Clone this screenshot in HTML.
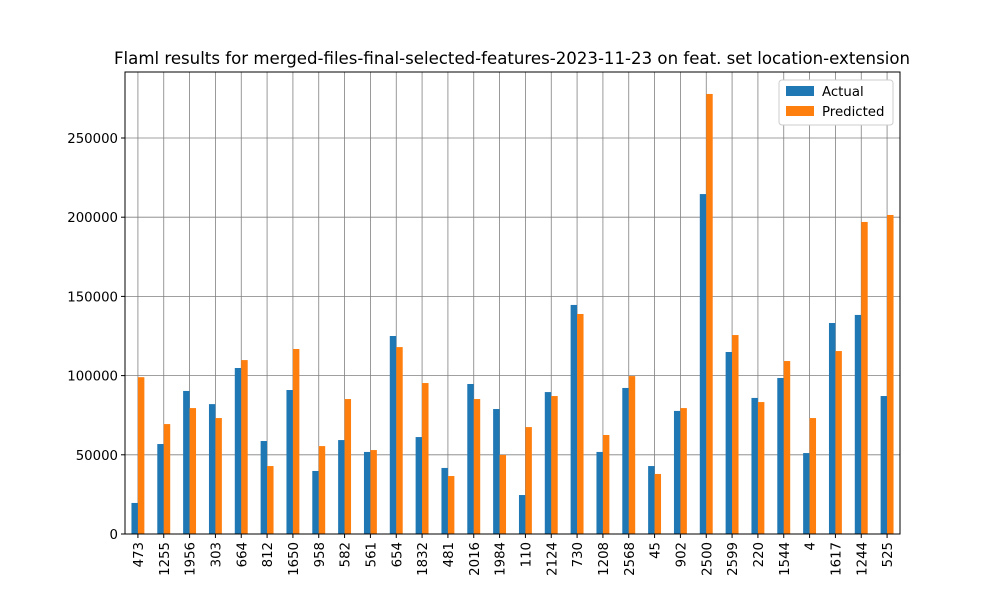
<!DOCTYPE html>
<html><head><meta charset="utf-8"><style>body{margin:0;background:#fff}svg{display:block;font-family:"DejaVu Sans","Liberation Sans",sans-serif}</style></head>
<body>
<svg id="chart" width="1000" height="600"></svg>
<script>
const categories=["473","1255","1956","303","664","812","1650","958","582","561","654","1832","481","2016","1984","110","2124","730","1208","2568","45","902","2500","2599","220","1544","4","1617","1244","525"];
const actualValues=[19600,56800,90300,82000,104800,58700,90900,39800,59300,51800,125000,61200,41700,94700,78900,24600,89600,144600,51800,92200,42900,77700,214600,114900,85900,98500,51100,133200,138300,87100];
const predictedValues=[99000,69400,79500,73200,109800,42900,116800,55500,85200,53000,118000,95300,36600,85200,49900,67500,87100,138900,62500,99700,37900,79500,277800,125600,83300,109200,73200,115500,197000,201400];
const yTicks=[0,50000,100000,150000,200000,250000];
const NS="http://www.w3.org/2000/svg";
const svg=document.getElementById('chart');
const L=125,R=900,T=72,B=534;
const band=(R-L)/categories.length;
const xC=i=>L+band*(i+0.5);
const y=v=>B-v*(396/250000);
function mk(tag,attrs,text){const e=document.createElementNS(NS,tag);for(const k in attrs)e.setAttribute(k,attrs[k]);if(text!==undefined)e.textContent=text;svg.appendChild(e);return e;}
yTicks.forEach(t=>{const g=mk('line',{x1:L,x2:R,y1:y(t),y2:y(t),stroke:'#808080','stroke-width':0.8});


mk('line',{x1:L-4,x2:L,y1:y(t),y2:y(t),stroke:'#000'});
const tl=mk('text',{x:L-7,y:y(t)+5,'text-anchor':'end','font-size':13.3},String(t));

});
categories.forEach((c,i)=>{const g=mk('line',{x1:xC(i),x2:xC(i),y1:T,y2:B,stroke:'#808080','stroke-width':0.8});

});
const bw=band*0.25;
categories.forEach((c,i)=>{
const a=mk('rect',{x:xC(i)-bw,y:y(actualValues[i]),width:bw,height:B-y(actualValues[i]),fill:'#1f77b4'});


const p=mk('rect',{x:xC(i),y:y(predictedValues[i]),width:bw,height:B-y(predictedValues[i]),fill:'#ff7f0e'});


mk('line',{x1:xC(i),x2:xC(i),y1:B,y2:B+4,stroke:'#000'});
const tl=mk('text',{transform:`translate(${xC(i)+5},${B+8}) rotate(-90)`,'text-anchor':'end','font-size':13.3},c);


});
const fr=mk('rect',{x:L,y:T,width:R-L,height:B-T,fill:'none',stroke:'#000','stroke-width':1});


const ti=mk('text',{x:512,y:64,'text-anchor':'middle','font-size':16.6},'Flaml results for merged-files-final-selected-features-2023-11-23 on feat. set location-extension');


const lg=mk('rect',{x:779,y:80,width:114,height:45,fill:'#fff',stroke:'#ccc',rx:3});


mk('rect',{x:786,y:86,width:28,height:10,fill:'#1f77b4'});
const l1=mk('text',{x:822,y:96,'font-size':13.3},'Actual');


mk('rect',{x:786,y:106,width:28,height:10,fill:'#ff7f0e'});
const l2=mk('text',{x:822,y:116,'font-size':13.3},'Predicted');


</script>
</body></html>
